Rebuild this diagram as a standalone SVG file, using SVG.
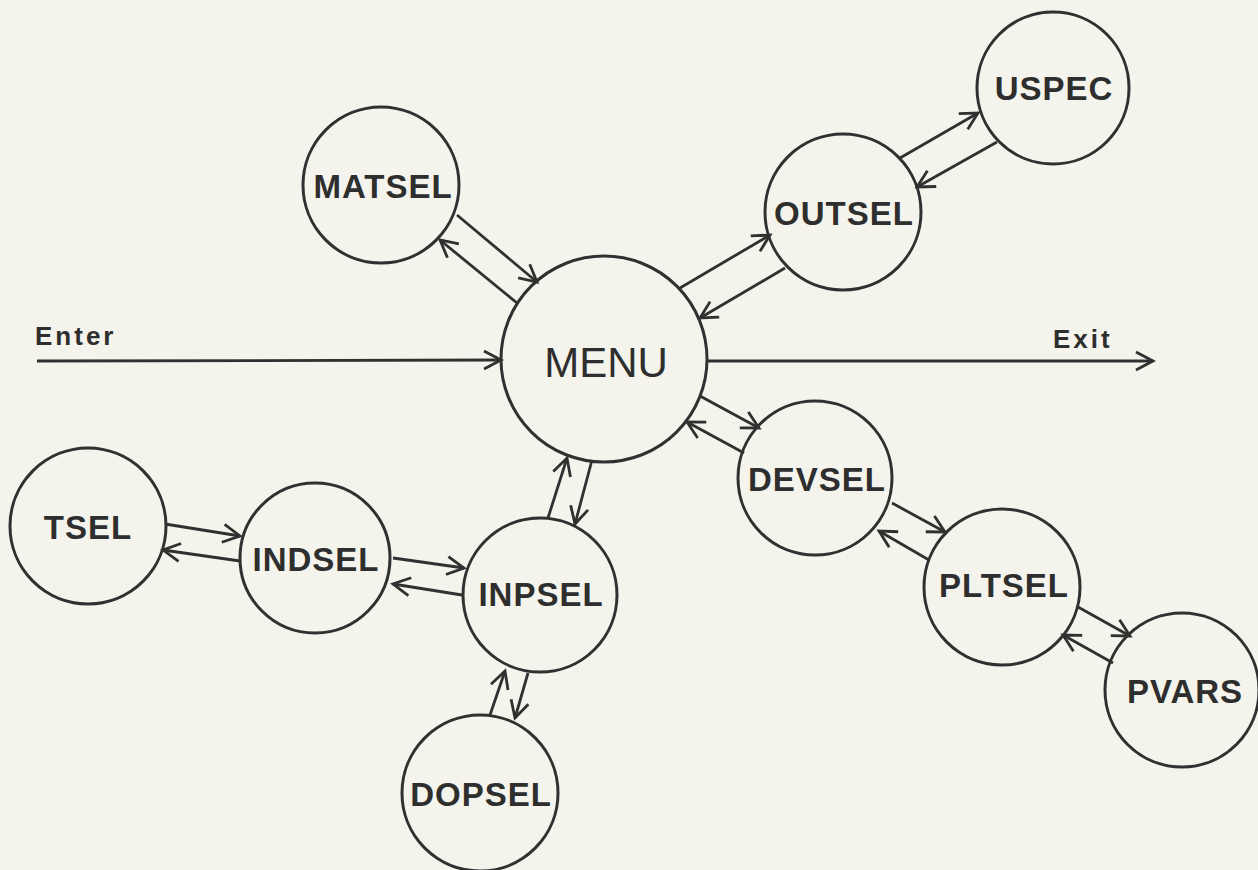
<svg xmlns="http://www.w3.org/2000/svg" width="1258" height="870" viewBox="0 0 1258 870">
<defs>
<style>
.n{fill:none;stroke:#303030;stroke-width:3}
.t{font-family:"Liberation Sans",Arial,sans-serif;font-weight:bold;font-size:33px;fill:#2e2e2e;text-anchor:middle;letter-spacing:1px}
.m{font-family:"Liberation Sans",Arial,sans-serif;font-size:42px;fill:#2e2e2e;text-anchor:middle}
.l{font-family:"Liberation Sans",Arial,sans-serif;font-weight:bold;font-size:26px;fill:#2e2e2e;letter-spacing:3px}
.c{fill:none;stroke:#303030;stroke-width:2.8;marker-end:url(#ah)}
</style>
<marker id="ah" markerWidth="22" markerHeight="24" refX="19" refY="12" orient="auto" markerUnits="userSpaceOnUse">
<path d="M2,3 L19,12 L2,21" fill="none" stroke="#303030" stroke-width="2.8"/>
</marker>
</defs>
<rect width="1258" height="870" fill="#f4f4ec"/>
<g id="connectors">
<line class="c" x1="37" y1="361" x2="501" y2="360"/>
<line class="c" x1="708" y1="361" x2="1153" y2="361"/>
<line class="c" x1="457" y1="215" x2="537" y2="282"/>
<line class="c" x1="517" y1="303" x2="440" y2="240"/>
<line class="c" x1="680" y1="288" x2="770" y2="235"/>
<line class="c" x1="785" y1="268" x2="700" y2="318"/>
<line class="c" x1="900" y1="158" x2="978" y2="113"/>
<line class="c" x1="997" y1="142" x2="917" y2="187"/>
<line class="c" x1="700" y1="396" x2="759" y2="428"/>
<line class="c" x1="744" y1="453" x2="687" y2="422"/>
<line class="c" x1="892" y1="503" x2="945" y2="532"/>
<line class="c" x1="929" y1="560" x2="879" y2="531"/>
<line class="c" x1="1078" y1="607" x2="1130" y2="636"/>
<line class="c" x1="1113" y1="663" x2="1063" y2="635"/>
<line class="c" x1="548" y1="518" x2="567" y2="458"/>
<line class="c" x1="592" y1="460" x2="575" y2="524"/>
<line class="c" x1="165" y1="524" x2="240" y2="536"/>
<line class="c" x1="240" y1="561" x2="163" y2="550"/>
<line class="c" x1="393" y1="558" x2="464" y2="568"/>
<line class="c" x1="462" y1="595" x2="393" y2="584"/>
<line class="c" x1="490" y1="715" x2="505" y2="671"/>
<line class="c" x1="528" y1="673" x2="515" y2="718"/>
</g>
<g id="enter-label"><text class="l" x="35" y="345">Enter</text></g>
<g id="exit-label"><text class="l" x="1053" y="348">Exit</text></g>
<g id="MENU"><circle class="n" cx="604" cy="359" r="103"/><text class="m" x="606" y="377">MENU</text></g>
<g id="MATSEL"><circle class="n" cx="381" cy="185" r="78"/><text class="t" x="383" y="198">MATSEL</text></g>
<g id="OUTSEL"><circle class="n" cx="843" cy="212" r="78"/><text class="t" x="844" y="225">OUTSEL</text></g>
<g id="USPEC"><circle class="n" cx="1053" cy="88" r="76"/><text class="t" x="1054" y="100">USPEC</text></g>
<g id="DEVSEL"><circle class="n" cx="815" cy="478" r="77"/><text class="t" x="817" y="491">DEVSEL</text></g>
<g id="PLTSEL"><circle class="n" cx="1002" cy="587" r="78"/><text class="t" x="1004" y="597">PLTSEL</text></g>
<g id="PVARS"><circle class="n" cx="1182" cy="690" r="77"/><text class="t" x="1185" y="703">PVARS</text></g>
<g id="TSEL"><circle class="n" cx="88" cy="526" r="78"/><text class="t" x="88" y="539">TSEL</text></g>
<g id="INDSEL"><circle class="n" cx="315" cy="558" r="75"/><text class="t" x="316" y="571">INDSEL</text></g>
<g id="INPSEL"><circle class="n" cx="540" cy="595" r="77"/><text class="t" x="541" y="606">INPSEL</text></g>
<g id="DOPSEL"><circle class="n" cx="480" cy="793" r="78"/><text class="t" x="481" y="806">DOPSEL</text></g>
</svg>
